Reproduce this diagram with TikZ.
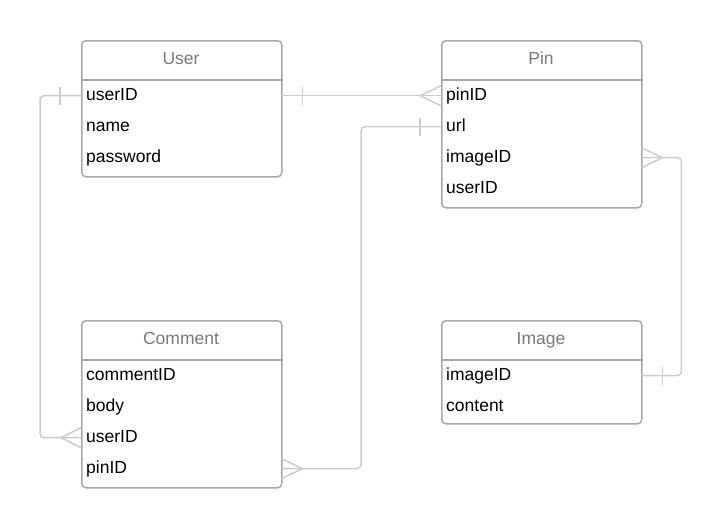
\documentclass[tikz,border=0pt]{standalone}
\usepackage{fontspec}
\setmainfont{Liberation Sans}
\usepackage{xcolor}
\usepackage{tikz}
\usetikzlibrary{positioning}

\definecolor{boxgray}{HTML}{A8A8A8}
\definecolor{linkgray}{HTML}{CCCCCC}
\definecolor{headgray}{HTML}{7A7A7A}

\tikzset{
  entity/.style={draw=boxgray, line width=1.5pt, rounded corners=4pt,
    minimum width=200pt, inner sep=0pt, anchor=north west},
  headline/.style={draw=boxgray, line width=1.5pt},
  title/.style={text=headgray, text height=13pt, text depth=4pt,
    font=\fontsize{17.5}{20}\selectfont},
  field/.style={anchor=north west, text width=190pt, inner xsep=5pt,
    inner ysep=0pt, minimum height=31pt, align=left,
    text height=13pt, text depth=4pt,
    font=\fontsize{17.5}{20}\selectfont},
  link/.style={draw=linkgray, line width=1.5pt},
}

\begin{document}
\begin{tikzpicture}[x=1pt,y=-1pt]

    \useasboundingbox (0,0) rectangle (722,528);
          % Page in pixel units, y going down

    % User
    \node[entity, minimum height=136pt] (user) at (81,40) {};
    \node[title] (user-title) at (181,60) {User};
    \draw[headline] ([yshift=-40pt]user.north west) -- ([yshift=-40pt]user.north east);
    \foreach \f [count=\i from 0] in {userID,name,password}{%
      \node[field] (user-\f) at (81,{80+31*\i}) {\f};
    }

    % Pin
    \node[entity, minimum height=167pt] (pin) at (441,40) {};
    \node[title] (pin-title) at (541,60) {Pin};
    \draw[headline] ([yshift=-40pt]pin.north west) -- ([yshift=-40pt]pin.north east);
    \foreach \f [count=\i from 0] in {pinID,url,imageID,userID}{%
      \node[field] (pin-\f) at (441,{80+31*\i}) {\f};
    }

    % Comment
    \node[entity, minimum height=167pt] (comment) at (81,320) {};
    \node[title] (comment-title) at (181,340) {Comment};
    \draw[headline] ([yshift=-40pt]comment.north west) -- ([yshift=-40pt]comment.north east);
    \foreach \f [count=\i from 0] in {commentID,body,userID,pinID}{%
      \node[field] (comment-\f) at (81,{360+31*\i}) {\f};
    }

    % Image
    \node[entity, minimum height=103pt] (image) at (441,320) {};
    \node[title] (image-title) at (541,340) {Image};
    \draw[headline] ([yshift=-40pt]image.north west) -- ([yshift=-40pt]image.north east);
    \foreach \f [count=\i from 0] in {imageID,content}{%
      \node[field] (image-\f) at (441,{360+31*\i}) {\f};
    }

    % User -- Comment
    \draw[link, rounded corners=4pt] (user-userID.west) -- ++(-41,0) |- (comment-userID.west);
    \draw[link] ([xshift=-21pt]user-userID.west) ++(0,-9) -- ++(0,18);
    \draw[link] ([yshift=10pt]comment-userID.west) -- ++(-20,10) -- ++(20,10);

    % User -- Pin
    \draw[link] (user-userID.east) -- (pin-pinID.west);
    \draw[link] ([xshift=21pt]user-userID.east) ++(0,-9) -- ++(0,18);
    \draw[link] ([yshift=10pt]pin-pinID.west) -- ++(-21,10) -- ++(21,10);

    % Pin -- Comment
    \draw[link, rounded corners=4pt] (pin-url.west) -- ++(-80,0) |- (comment-pinID.east);
    \draw[link] ([xshift=-21pt]pin-url.west) ++(0,-9) -- ++(0,18);
    \draw[link] ([yshift=10pt]comment-pinID.east) -- ++(21,10) -- ++(-21,10);

    % Pin -- Image
    \draw[link, rounded corners=4pt] (pin-imageID.east) -- ++(40,0) |- (image-imageID.east);
    \draw[link] ([yshift=10pt]pin-imageID.east) -- ++(21,10) -- ++(-21,10);
    \draw[link] ([xshift=21pt]image-imageID.east) ++(0,-9) -- ++(0,18);

\end{tikzpicture}
\end{document}
